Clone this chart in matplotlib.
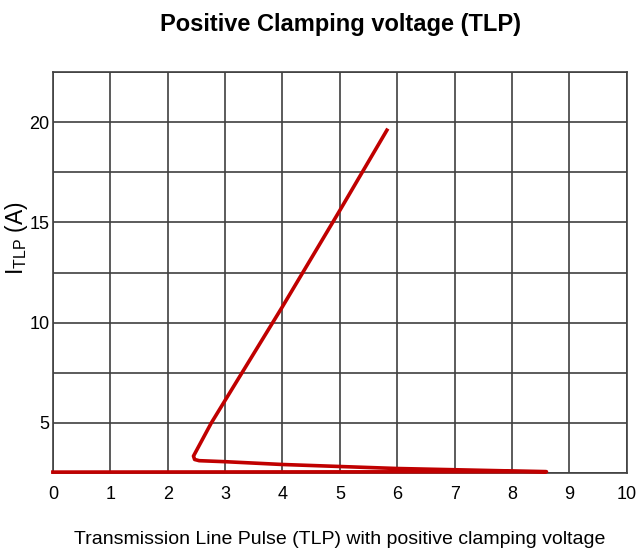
import numpy as np
import matplotlib
matplotlib.use("Agg")
import matplotlib.pyplot as plt
from matplotlib.ticker import MultipleLocator

plt.rcParams['font.family'] = ['Liberation Sans', 'DejaVu Sans']

# TLP curve (V, A)
v_tlp = [0.0, 8.6, 6.0, 4.0, 3.0, 2.55, 2.47, 2.45, 2.76, 4.0, 5.0, 5.82]
i_tlp = [2.55, 2.57, 2.73, 2.93, 3.07, 3.12, 3.18, 3.35, 5.0, 10.8, 15.6, 19.6]

x_ticks = list(range(0, 11))
y_ticks = [5, 10, 15, 20]

fig = plt.figure(figsize=(6.37, 5.54), dpi=100)
ax = fig.add_axes([0.083, 0.146, 0.901, 0.724])

ax.plot(v_tlp, i_tlp, color='#C00000', lw=2.6, solid_joinstyle='round', zorder=3, clip_on=False)

ax.set_xlim(0, 10)
ax.set_ylim(2.5, 22.5)
ax.set_xticks(x_ticks)
ax.set_yticks(y_ticks)
ax.yaxis.set_minor_locator(MultipleLocator(2.5))
ax.grid(True, which='both', color='#404040', lw=1.2)
ax.set_axisbelow(True)
for s in ax.spines.values():
    s.set_color('#404040')
    s.set_linewidth(1.2)
ax.tick_params(axis='both', which='major', labelsize=13, length=0, pad=9)
ax.tick_params(axis='y', which='major', pad=2.5)
ax.tick_params(axis='y', which='minor', length=0)

fig.text(0.534, 1 - 25 / 554, 'Positive Clamping voltage (TLP)', fontsize=17,
         fontweight='bold', ha='center', va='center')
fig.text(0.534, 1 - 540 / 554, 'Transmission Line Pulse (TLP) with positive clamping voltage',
         fontsize=14, ha='center', va='center')
ax.set_ylabel(r'I$_{\mathregular{TLP}}$ (A)', fontsize=16.5)
ax.yaxis.set_label_coords(-0.039, 0.586)

fig.savefig('out.png', dpi=100)
